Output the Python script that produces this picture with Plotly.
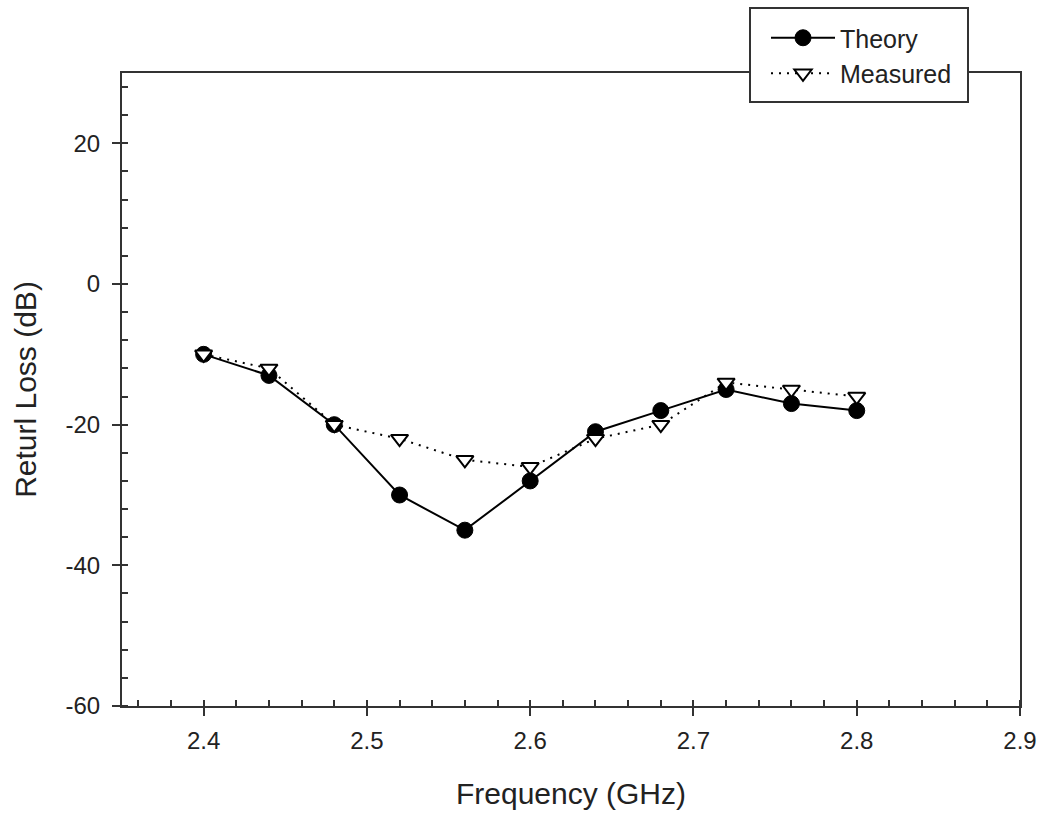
import plotly.graph_objects as go

# Frequency sweep (GHz) and return loss (dB)
freq = [2.40, 2.44, 2.48, 2.52, 2.56, 2.60, 2.64, 2.68, 2.72, 2.76, 2.80]
theory = [-10, -13, -20, -30, -35, -28, -21, -18, -15, -17, -18]
measured = [-10, -12, -20, -22, -25, -26, -22, -20, -14, -15, -16]

# Axis tick positions and labels (plain hyphen minus signs)
x_ticks = [2.4, 2.5, 2.6, 2.7, 2.8, 2.9]
x_labels = ["2.4", "2.5", "2.6", "2.7", "2.8", "2.9"]
y_ticks = [-60, -40, -20, 0, 20]
y_labels = ["-60", "-40", "-20", "0", "20"]

FONT = "Liberation Sans, Arial, sans-serif"
AXIS_COLOR = "#333333"
TEXT_COLOR = "#222222"

# Plot area in pixels (used to place the legend frame)
W, H = 1042, 816
ML, MR, MT, MB = 122, 22, 73, 110
PW, PH = W - ML - MR, H - MT - MB


def px_x(px):
    return (px - ML) / PW


def px_y(py):
    return (H - MB - py) / PH


fig = go.Figure()
fig.add_trace(go.Scatter(
    x=freq, y=theory, name="Theory", mode="lines+markers",
    line=dict(color="black", width=2),
    marker=dict(symbol="circle", size=16, color="black",
                line=dict(color="black", width=1)),
))
fig.add_trace(go.Scatter(
    x=freq, y=measured, name="Measured", mode="lines+markers",
    line=dict(color="black", width=2, dash="2px,6px"),
    marker=dict(symbol="triangle-down", size=15, color="white",
                line=dict(color="black", width=2)),
))

axis_common = dict(
    showline=True, linecolor=AXIS_COLOR, linewidth=2, mirror=True,
    showgrid=False, zeroline=False,
    ticks="outside", ticklen=8, tickwidth=2, tickcolor=AXIS_COLOR,
    tickfont=dict(family=FONT, size=24, color=TEXT_COLOR),
)

fig.update_xaxes(
    range=[2.35, 2.9], tickmode="array", tickvals=x_ticks, ticktext=x_labels,
    ticklabelstandoff=4,
    minor=dict(ticks="inside", dtick=0.02, tick0=2.4, ticklen=6,
               tickwidth=2, tickcolor=AXIS_COLOR),
    title=dict(text="Frequency (GHz)", standoff=30,
               font=dict(family=FONT, size=30, color=TEXT_COLOR)),
    **axis_common,
)
fig.update_yaxes(
    range=[-60, 30], tickmode="array", tickvals=y_ticks, ticktext=y_labels,
    ticklabelstandoff=7,
    minor=dict(ticks="inside", dtick=4, tick0=0, ticklen=6,
               tickwidth=2, tickcolor=AXIS_COLOR),
    title=dict(text="Returl Loss (dB)", standoff=20,
               font=dict(family=FONT, size=30, color=TEXT_COLOR)),
    **axis_common,
)

# Legend frame, drawn over the top spine
fig.add_shape(
    type="rect", xref="paper", yref="paper", layer="above",
    x0=px_x(750), x1=px_x(968), y0=px_y(102), y1=px_y(8),
    fillcolor="white", line=dict(color=AXIS_COLOR, width=2),
)

fig.update_layout(
    width=W, height=H,
    margin=dict(l=ML, r=MR, t=MT, b=MB, autoexpand=False),
    paper_bgcolor="white", plot_bgcolor="white",
    showlegend=True,
    legend=dict(
        x=px_x(766), y=px_y(15), xanchor="left", yanchor="top",
        bgcolor="rgba(0,0,0,0)", borderwidth=0,
        font=dict(family=FONT, size=25, color=TEXT_COLOR),
        itemwidth=64, tracegroupgap=0,
    ),
)

fig.write_html("out.html")
